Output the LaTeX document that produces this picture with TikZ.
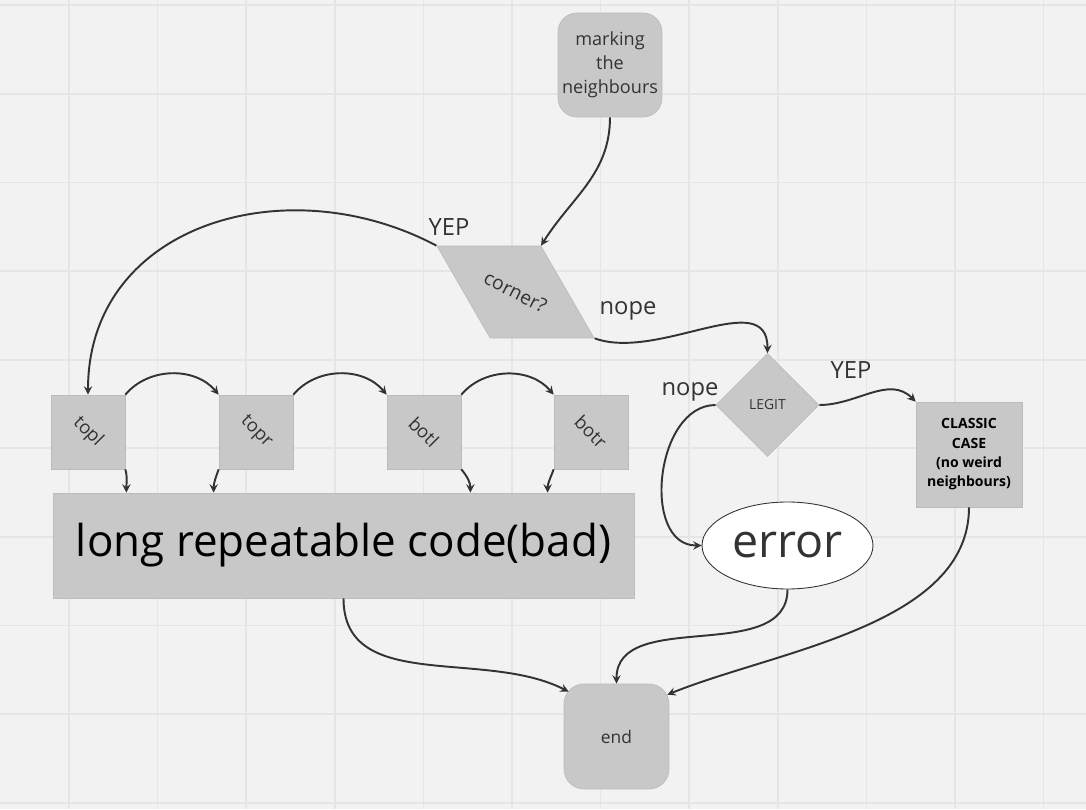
\documentclass[tikz,border=0pt]{standalone}
\usepackage{fontspec}
\setmainfont{Open Sans}
\usepackage{xcolor}
\usetikzlibrary{positioning}
\usetikzlibrary{shapes.geometric}
\usetikzlibrary{arrows}
\usetikzlibrary{calc}

\definecolor{paper}{RGB}{242,242,242}
\definecolor{gridline}{RGB}{229,229,229}
\definecolor{boxgray}{RGB}{200,200,200}
\definecolor{boxedge}{RGB}{188,188,188}
\definecolor{ink}{RGB}{51,51,51}

\tikzset{
    flowbox/.style={fill=boxgray, draw=boxedge, line width=0.4pt, text=ink, inner sep=0pt, align=center},
    roundbox/.style={flowbox, rectangle, rounded corners=0.38cm, minimum width=2.08cm, minimum height=2.08cm},
    stepbox/.style={flowbox, rectangle, minimum width=1.48cm, minimum height=1.48cm, font=\fontsize{10.5}{12}\selectfont},
    decision/.style={flowbox, diamond, minimum width=2.06cm, minimum height=2.06cm},
    answer/.style={text=ink, font=\fontsize{13.5}{16}\selectfont},
    flow/.style={ink, line width=1.1pt},
}

\begin{document}
\begin{tikzpicture}[x=0.02cm,y=0.02cm]
    % canvas
    \useasboundingbox (0,0) rectangle (1086,809);
    \fill[paper] (0,0) rectangle (1086,809);
    \foreach \gx in {0,...,11}
        \draw[gridline,line width=1pt] ({69+88.6*\gx},0) -- ({69+88.6*\gx},809);
    \foreach \gy in {0,...,9}
        \draw[gridline,line width=1pt] (0,{803.7-88.6*\gy}) -- (1086,{803.7-88.6*\gy});

    % blocks
    \node [roundbox, font=\fontsize{10.3}{13.6}\selectfont] (marking) at (610,744) {marking\\the\\neighbours};
    \node [flowbox, trapezium, trapezium left angle=120, trapezium right angle=60, trapezium stretches body,
           text height=0.92cm, text depth=0.92cm, minimum width=3.14cm,
           label={[rotate=-27, text=ink, font=\fontsize{11}{13}\selectfont]center:corner?}] (corner) at (515.5,517) {};
    \node [stepbox] (topl) at (88,377) {\rotatebox{-45}{topl}};
    \node [stepbox] (topr) at (256,377) {\rotatebox{-45}{topr}};
    \node [stepbox] (botl) at (424,377) {\rotatebox{-45}{botl}};
    \node [stepbox] (botr) at (591,377) {\rotatebox{-45}{botr}};
    \node [flowbox, rectangle, minimum width=11.62cm, minimum height=2.1cm, text=black, font=\fontsize{25}{30}\selectfont] (long) at (343.5,263.5) {long repeatable code(bad)};
    \node [decision, font=\fontsize{7.9}{9}\selectfont] (legit) at (767.5,404) {LEGIT};
    \node [flowbox, rectangle, minimum width=2.12cm, minimum height=2.1cm, text=black, font=\fontsize{8}{11}\selectfont\bfseries] (classic) at (969,354.5) {CLASSIC\\CASE\\(no weird\\neighbours)};
    \node [ellipse, fill=white, draw=ink, line width=0.5pt, inner sep=0pt, minimum width=3.42cm, minimum height=1.74cm, text=ink, font=\fontsize{26.5}{30}\selectfont] (error) at (787.5,263.5) {error};
    \node [roundbox, minimum width=2.1cm, minimum height=2.1cm, rounded corners=0.4cm, font=\fontsize{9.9}{12}\selectfont] (end) at (616.5,72.5) {end};

    % answers
    \node [answer] (yepcorner) at (449,582) {YEP};
    \node [answer] (nopecorner) at (628,498) {nope};
    \node [answer] (yeplegit) at (851,439) {YEP};
    \node [answer] (nopelegit) at (690,417) {nope};

    \path[-stealth, flow]
        (marking.south) edge [out=-90, in=58] (corner.top right corner)
        (corner.top left corner) edge [out=152, in=90, looseness=1.15] (topl.north)
        (corner.bottom right corner) edge [out=-20, in=90] (legit.north)
        (topl.north east) edge [out=50, in=130] (topr.north west)
        (topr.north east) edge [out=50, in=130] (botl.north west)
        (botl.north east) edge [out=50, in=130] (botr.north west)
        (topl.south east) edge [out=-75, in=90] ($(topl.south east |- long.north)+(1,0)$)
        (topr.south west) edge [out=-110, in=90] ($(topr.south west |- long.north)+(-5,0)$)
        (botl.south east) edge [out=-50, in=90] ($(botl.south east |- long.north)+(9,0)$)
        (botr.south west) edge [out=-110, in=90] ($(botr.south west |- long.north)+(-6,0)$)
        (legit.east) edge [out=0, in=135] (classic.north west)
        (legit.west) edge [out=180, in=180, looseness=1.1] (error.west)
        (long.south) edge [out=-90, in=153] ($(end.north west)+(5,-8)$)
        (error.south) edge [out=-90, in=90] (end.north)
        (classic.south) edge [out=-90, in=22, looseness=0.85] ($(end.north east)+(-2,-11)$)
    ;
\end{tikzpicture}
\end{document}
